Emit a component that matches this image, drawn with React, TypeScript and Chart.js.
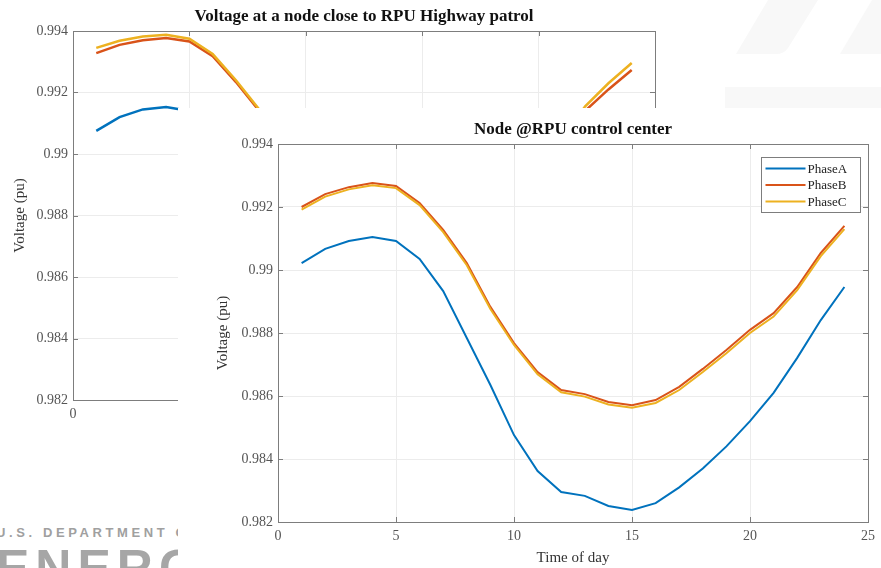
import React, { useEffect, useRef } from "react";
import { Chart, registerables } from "chart.js";

Chart.register(...registerables);

// ---------- data ----------
const hours = [1, 2, 3, 4, 5, 6, 7, 8, 9, 10, 11, 12, 13, 14, 15, 16, 17, 18, 19, 20, 21, 22, 23, 24];

// front chart: Node @RPU control center
const frontPhaseA = [0.99022, 0.99067, 0.99092, 0.99105, 0.99092, 0.99035, 0.98933, 0.98784, 0.98635, 0.98476, 0.98362, 0.98295, 0.98283, 0.98251, 0.98238, 0.9826, 0.9831, 0.9837, 0.9844, 0.9852, 0.9861, 0.98721, 0.98841, 0.98946];
const frontPhaseB = [0.992, 0.99241, 0.99263, 0.99276, 0.99267, 0.99213, 0.99127, 0.99022, 0.98883, 0.98768, 0.98676, 0.98619, 0.98606, 0.98581, 0.98571, 0.98587, 0.98629, 0.98686, 0.98746, 0.9881, 0.98863, 0.98946, 0.99054, 0.9914];
const frontPhaseC = [0.99192, 0.99233, 0.99256, 0.99269, 0.9926, 0.99206, 0.9912, 0.99015, 0.98876, 0.98762, 0.98669, 0.98612, 0.98598, 0.98573, 0.98563, 0.98578, 0.98619, 0.98676, 0.98736, 0.988, 0.98852, 0.98936, 0.99044, 0.9913];

// back chart: Voltage at a node close to RPU Highway patrol
const backPhaseA = [0.99075, 0.9912, 0.99145, 0.99153, 0.9914, 0.9908, 0.9898, 0.9885, 0.9869, 0.9855, 0.9844, 0.9839, 0.9837, 0.9834, 0.9833, 0.9835, 0.9841, 0.9848, 0.9856, 0.9863, 0.9871, 0.9882, 0.9895, 0.9907];
const backPhaseB = [0.99328, 0.99355, 0.9937, 0.99377, 0.99366, 0.99318, 0.99234, 0.9914, 0.99, 0.9889, 0.9879, 0.9874, 0.9873, 0.987, 0.9869, 0.9871, 0.9876, 0.9882, 0.9888, 0.9895, 0.9904, 0.9914, 0.9921, 0.99273];
const backPhaseC = [0.99345, 0.99368, 0.99382, 0.99388, 0.99375, 0.99325, 0.9924, 0.99145, 0.99005, 0.98895, 0.98795, 0.98745, 0.98735, 0.98705, 0.98695, 0.98715, 0.98765, 0.98825, 0.98885, 0.98955, 0.99048, 0.99155, 0.9923, 0.99296];

const seriesLabels = ["PhaseA", "PhaseB", "PhaseC"];
const seriesColors = ["#0072BD", "#D95319", "#EDB120"];
const xTicks = [0, 5, 10, 15, 20, 25];
const yTicks = [0.982, 0.984, 0.986, 0.988, 0.99, 0.992, 0.994];
const frontTitle = "Node @RPU control center";
const backTitle = "Voltage at a node close to RPU Highway patrol";
const xAxisTitle = "Time of day";
const yAxisTitle = "Voltage (pu)";

const SERIF = "'Liberation Serif', 'Times New Roman', serif";

type Cfg = {
  title: string;
  titleY: number;
  series: number[][];
  padTop: number;
  padRight: number;
  yWidth: number;
  xHeight: number;
  yTitlePad: number;
  lineWidth: number;
  legend: boolean;
};

function makeMatlabPlugin(cfg: Cfg) {
  return {
    id: "matlabBox",
    beforeDatasetsDraw(chart: any) {
      const { ctx, chartArea: ca, scales } = chart;
      ctx.save();
      ctx.strokeStyle = "#7d7d7d";
      ctx.lineWidth = 1;
      ctx.strokeRect(Math.round(ca.left) + 0.5, Math.round(ca.top) + 0.5, Math.round(ca.width), Math.round(ca.height));
      const tl = 5;
      ctx.beginPath();
      for (const v of xTicks) {
        const x = Math.round(scales.x.getPixelForValue(v)) + 0.5;
        ctx.moveTo(x, ca.bottom);
        ctx.lineTo(x, ca.bottom - tl);
        ctx.moveTo(x, ca.top);
        ctx.lineTo(x, ca.top + tl);
      }
      for (const v of yTicks) {
        const y = Math.round(scales.y.getPixelForValue(v)) + 0.5;
        ctx.moveTo(ca.left, y);
        ctx.lineTo(ca.left + tl, y);
        ctx.moveTo(ca.right, y);
        ctx.lineTo(ca.right - tl, y);
      }
      ctx.stroke();
      ctx.restore();
    },
    afterDraw(chart: any) {
      const { ctx, chartArea: ca } = chart;
      ctx.save();
      // title
      ctx.fillStyle = "#111";
      ctx.font = `bold 17px ${SERIF}`;
      ctx.textAlign = "center";
      ctx.textBaseline = "middle";
      ctx.fillText(cfg.title, (ca.left + ca.right) / 2, cfg.titleY);
      // legend
      if (cfg.legend) {
        const w = 99;
        const h = 55;
        const bx = Math.round(ca.right - 8 - w) + 0.5;
        const by = Math.round(ca.top + 13) + 0.5;
        ctx.fillStyle = "#fff";
        ctx.fillRect(bx, by, w, h);
        ctx.strokeStyle = "#7d7d7d";
        ctx.lineWidth = 1;
        ctx.strokeRect(bx, by, w, h);
        ctx.font = `13px ${SERIF}`;
        ctx.textAlign = "left";
        ctx.textBaseline = "middle";
        chart.data.datasets.forEach((ds: any, i: number) => {
          const y = by + 11 + i * 16.5;
          ctx.strokeStyle = ds.borderColor;
          ctx.lineWidth = 2;
          ctx.beginPath();
          ctx.moveTo(bx + 4, y);
          ctx.lineTo(bx + 44, y);
          ctx.stroke();
          ctx.fillStyle = "#222";
          ctx.fillText(ds.label, bx + 46, y + 1);
        });
      }
      ctx.restore();
    },
  };
}

function MatlabChart(props: { cfg: Cfg; width: number; height: number; style: React.CSSProperties }) {
  const ref = useRef<HTMLCanvasElement | null>(null);
  const { cfg, width, height, style } = props;
  useEffect(() => {
    if (!ref.current) return;
    const chart = new Chart(ref.current, {
      type: "line",
      data: {
        datasets: cfg.series.map((vals, i) => ({
          label: seriesLabels[i],
          data: hours.map((h, k) => ({ x: h, y: vals[k] })),
          borderColor: seriesColors[i],
          backgroundColor: seriesColors[i],
          borderWidth: cfg.lineWidth,
          pointRadius: 0,
          tension: 0,
          fill: false,
          order: 3 - i,
        })),
      },
      options: {
        animation: false,
        responsive: false,
        maintainAspectRatio: false,
        layout: { padding: { top: cfg.padTop, right: cfg.padRight, left: 0, bottom: 0 } },
        plugins: {
          legend: { display: false },
          title: { display: false },
          tooltip: { enabled: false },
        },
        scales: {
          x: {
            type: "linear",
            min: 0,
            max: 25,
            afterBuildTicks: (s: any) => {
              s.ticks = xTicks.map((v) => ({ value: v }));
            },
            afterFit: (s: any) => {
              s.height = cfg.xHeight;
            },
            grid: { color: "#ececec", drawTicks: false },
            border: { display: false },
            ticks: {
              color: "#555",
              font: { family: SERIF, size: 14 },
              padding: 6,
              maxRotation: 0,
              callback: (v: any) => String(v),
            },
            title: {
              display: true,
              text: xAxisTitle,
              color: "#333",
              font: { family: SERIF, size: 15 },
              padding: { top: 0, bottom: 1 },
            },
          },
          y: {
            type: "linear",
            min: 0.982,
            max: 0.994,
            afterBuildTicks: (s: any) => {
              s.ticks = yTicks.map((v) => ({ value: v }));
            },
            afterFit: (s: any) => {
              s.width = cfg.yWidth;
            },
            grid: { color: "#ececec", drawTicks: false },
            border: { display: false },
            ticks: {
              color: "#555",
              font: { family: SERIF, size: 14 },
              padding: 5,
              callback: (v: any) => String(+Number(v).toFixed(3)),
            },
            title: {
              display: true,
              text: yAxisTitle,
              color: "#333",
              font: { family: SERIF, size: 15 },
              padding: { top: cfg.yTitlePad, bottom: 0 },
            },
          },
        },
      },
      plugins: [makeMatlabPlugin(cfg)],
    } as any);
    return () => chart.destroy();
  }, []);
  return <canvas ref={ref} width={width} height={height} style={{ position: "absolute", width, height, ...style }} />;
}

const backCfg: Cfg = {
  title: backTitle,
  titleY: 17,
  series: [backPhaseA, backPhaseB, backPhaseC],
  padTop: 31,
  padRight: 45,
  yWidth: 73,
  xHeight: 40,
  yTitlePad: 11,
  lineWidth: 2.5,
  legend: false,
};

const frontCfg: Cfg = {
  title: frontTitle,
  titleY: 22,
  series: [frontPhaseA, frontPhaseB, frontPhaseC],
  padTop: 36,
  padRight: 11,
  yWidth: 100,
  xHeight: 46,
  yTitlePad: 36,
  lineWidth: 2,
  legend: true,
};

export default function App() {
  return (
    <div
      style={{
        position: "fixed",
        left: 0,
        top: 0,
        width: 881,
        height: 568,
        overflow: "hidden",
        background: "#fff",
      }}
    >
      <svg width={881} height={568} style={{ position: "absolute", left: 0, top: 0 }}>
        <path d="M768 0 L818 0 L788 48 Q784 54 776 54 L736 54 Z" fill="#f8f8f8" />
        <path d="M872 0 L881 0 L881 54 L840 54 Z" fill="#f8f8f8" />
        <rect x={725} y={87} width={156} height={21} fill="#f8f8f8" />
      </svg>
      <div
        style={{
          position: "absolute",
          left: -4,
          top: 526,
          font: "bold 13px 'Liberation Sans', Arial, sans-serif",
          lineHeight: 1,
          letterSpacing: 3.6,
          color: "#a0a0a0",
          whiteSpace: "nowrap",
        }}
      >
        U.S. DEPARTMENT OF
      </div>
      <div
        style={{
          position: "absolute",
          left: -4,
          top: 543,
          font: "bold 50px 'Liberation Sans', Arial, sans-serif",
          lineHeight: 1,
          letterSpacing: 6,
          color: "#a6a6a6",
          whiteSpace: "nowrap",
        }}
      >
        ENERGY
      </div>
      <MatlabChart cfg={backCfg} width={700} height={440} style={{ left: 0, top: 0 }} />
      <MatlabChart cfg={frontCfg} width={703} height={460} style={{ left: 178, top: 108, background: "#fff" }} />
    </div>
  );
}
